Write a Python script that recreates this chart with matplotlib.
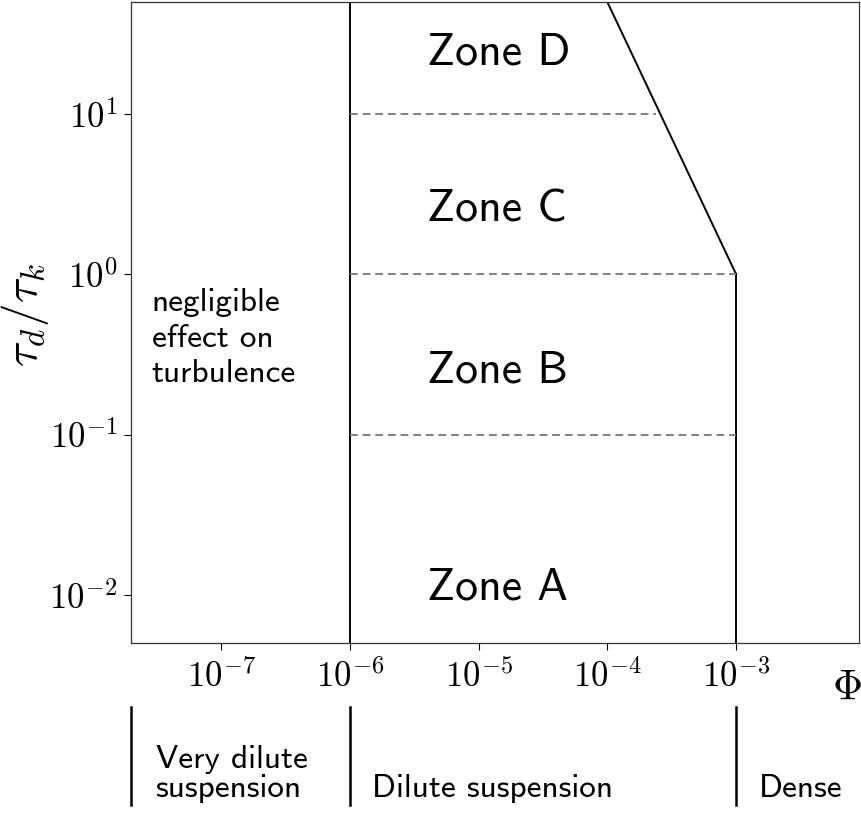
import matplotlib
matplotlib.use("Agg")
import matplotlib.pyplot as plt
import matplotlib.transforms as mtransforms
from matplotlib.ticker import FixedLocator, FixedFormatter

plt.rcParams["mathtext.fontset"] = "cm"

# Regime boundaries in volume fraction Phi and time-scale ratio tau_d/tau_k
phi_dilute = 1e-6
phi_dense = 1e-3
tau_levels = [1e-1, 1e0, 1e1]
tau_level_ends = [1e-3, 1e-3, 2.4e-4]
slope_phi = [1e-4, 1e-3]
slope_tau = [50, 1]

x_ticks = [1e-7, 1e-6, 1e-5, 1e-4, 1e-3]
x_ticklabels = [r"$10^{-7}$", r"$10^{-6}$", r"$10^{-5}$", r"$10^{-4}$", r"$10^{-3}$"]
y_ticks = [1e-2, 1e-1, 1e0, 1e1]
y_ticklabels = [r"$10^{-2}$", r"$10^{-1}$", r"$10^{0}$", r"$10^{1}$"]

zone_names = ["Zone A", "Zone B", "Zone C", "Zone D"]
zone_tau = [1.1e-2, 0.25, 2.5, 24]
zone_phi = 4e-6

regime_names = ["Very dilute\nsuspension", "Dilute suspension", "Dense"]
regime_bounds = [2e-8, 1e-6, 1e-3]
regime_text_phi = [3.1e-8, 1.48e-6, 1.5e-3]

xlim = (2e-8, 9e-3)
ylim = (5e-3, 50)

W, H = 861, 816
fig = plt.figure(figsize=(W / 100, H / 100), dpi=100)
left, right, top, bottom = 131, 859, 2, 643
ax = fig.add_axes([left / W, (H - bottom) / H, (right - left) / W, (bottom - top) / H])
ax.set_xscale("log")
ax.set_yscale("log")
ax.set_xlim(*xlim)
ax.set_ylim(*ylim)
ax.minorticks_off()
ax.xaxis.set_major_locator(FixedLocator(x_ticks))
ax.xaxis.set_major_formatter(FixedFormatter(x_ticklabels))
ax.yaxis.set_major_locator(FixedLocator(y_ticks))
ax.yaxis.set_major_formatter(FixedFormatter(y_ticklabels))
ax.tick_params(axis="both", labelsize=25, length=5, width=0.8)
ax.tick_params(axis="x", pad=7)
ax.tick_params(axis="y", pad=5)
for s in ax.spines.values():
    s.set_color("#333333")
    s.set_linewidth(0.9)

# regime boundaries inside the map
ax.plot([phi_dilute, phi_dilute], list(ylim), color="black", lw=1.4)
ax.plot([phi_dense, phi_dense], [ylim[0], 1], color="black", lw=1.4)
ax.plot(slope_phi, slope_tau, color="black", lw=1.4)
for lev, end in zip(tau_levels, tau_level_ends):
    ax.plot([phi_dilute, end], [lev, lev], color="#808080", lw=1.4, ls=(0, (4, 2.5)))

sans = "cmss10"
for name, t in zip(zone_names, zone_tau):
    ax.text(zone_phi, t, name, family=sans, fontsize=33, ha="left", va="center")

ax.text(2.9e-8, 0.4, "negligible\neffect on\nturbulence", family=sans, fontsize=24,
        ha="left", va="center", linespacing=1.3)

ax.set_xlabel(r"$\Phi$", fontsize=30)
ax.xaxis.set_label_coords(0.9835, -0.036)
ax.text(-0.146, 0.512, r"$\tau_d/\tau_k$", transform=ax.transAxes, fontsize=34,
        rotation=90, ha="center", va="center")

# regime bars below the axis
trans = mtransforms.blended_transform_factory(ax.transData, ax.transAxes)
y0 = -(707 - bottom) / (bottom - top)
y1 = -(805 - bottom) / (bottom - top)
for b in regime_bounds:
    ax.plot([b, b], [y0, y1], color="black", lw=1.8, transform=trans, clip_on=False)
ytxt = -(797 - bottom) / (bottom - top)
for name, xp in zip(regime_names, regime_text_phi):
    ax.text(xp, ytxt, name, family=sans, fontsize=24, ha="left", va="baseline",
            transform=trans, linespacing=1.0)

fig.savefig("out.png", dpi=100)
